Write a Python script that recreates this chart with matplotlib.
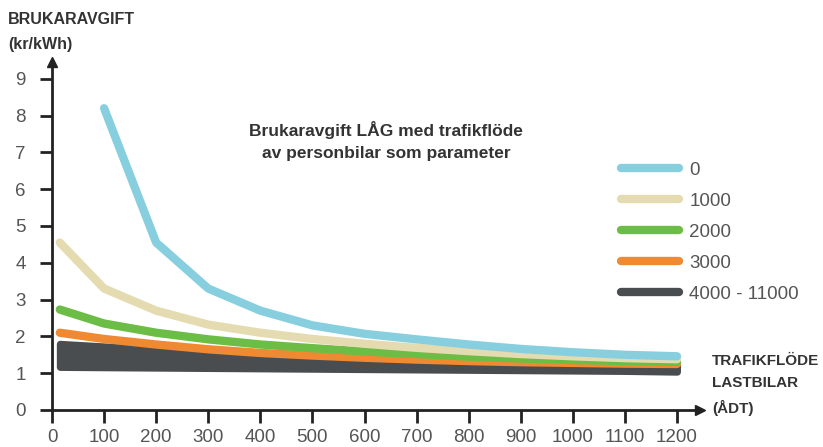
import matplotlib
matplotlib.use("Agg")
import matplotlib.pyplot as plt
from matplotlib.lines import Line2D

plt.rcParams['font.family'] = ['Liberation Sans', 'DejaVu Sans']

# Data
x0 = [100, 200, 300, 400, 500, 600, 700, 800, 900, 1000, 1100, 1200]
y0 = [8.2, 4.55, 3.3, 2.7, 2.3, 2.07, 1.92, 1.78, 1.66, 1.57, 1.5, 1.46]
xs = [15, 100, 200, 300, 400, 500, 600, 700, 800, 900, 1000, 1100, 1200]
y1000 = [4.55, 3.3, 2.7, 2.32, 2.1, 1.93, 1.8, 1.69, 1.6, 1.52, 1.46, 1.41, 1.38]
y2000 = [2.73, 2.35, 2.1, 1.92, 1.78, 1.68, 1.59, 1.52, 1.45, 1.4, 1.36, 1.33, 1.31]
y3000 = [2.1, 1.93, 1.78, 1.65, 1.55, 1.48, 1.42, 1.37, 1.33, 1.3, 1.28, 1.26, 1.25]
band_hi = [1.8, 1.73, 1.65, 1.57, 1.5, 1.44, 1.39, 1.35, 1.31, 1.28, 1.25, 1.23, 1.2]
band_lo = [1.17, 1.16, 1.15, 1.14, 1.13, 1.12, 1.11, 1.1, 1.09, 1.08, 1.07, 1.06, 1.04]
labels = ['0', '1000', '2000', '3000', '4000 - 11000']
colors = ['#87cfdf', '#e5dbb0', '#6cbd45', '#f08a32', '#4a4d50']
xticks = list(range(0, 1201, 100))
yticks = list(range(0, 10))

W, H = 823, 447
fig = plt.figure(figsize=(W / 100, H / 100), dpi=100)
x_left, x_zero_py = 52, 410
px_x = 625 / 1200
px_y = 36.8
xmax, ymax = 1245, 9.45
ax = fig.add_axes([x_left / W, (H - x_zero_py) / H, xmax * px_x / W, ymax * px_y / H])
ax.set_xlim(0, xmax)
ax.set_ylim(0, ymax)

lw = 6
ax.fill_between(xs, band_lo, band_hi, color=colors[4], lw=5, edgecolor=colors[4],
                joinstyle='round', capstyle='round', zorder=2)
ax.plot(xs, y3000, color=colors[3], lw=lw, solid_capstyle='round', solid_joinstyle='round', zorder=3)
ax.plot(xs, y2000, color=colors[2], lw=lw, solid_capstyle='round', solid_joinstyle='round', zorder=4)
ax.plot(xs, y1000, color=colors[1], lw=lw, solid_capstyle='round', solid_joinstyle='round', zorder=5)
ax.plot(x0, y0, color=colors[0], lw=lw, solid_capstyle='round', solid_joinstyle='round', zorder=6)

for s in ['top', 'right']:
    ax.spines[s].set_visible(False)
for s in ['left', 'bottom']:
    ax.spines[s].set_linewidth(2)
    ax.spines[s].set_color('#222222')
ax.plot(1, 0, marker='>', color='#222222', markersize=7, transform=ax.get_yaxis_transform(), clip_on=False)
ax.plot(0, 1, marker='^', color='#222222', markersize=7, transform=ax.get_xaxis_transform(), clip_on=False)

ax.set_xticks(xticks)
ax.set_yticks(yticks)
ax.tick_params(axis='both', length=9, width=2, color='#222222', labelcolor='#555555', labelsize=13.5)
ax.tick_params(axis='x', pad=5)
ax.tick_params(axis='y', pad=10)

fig.text(8 / W, 1 - 32 / H, 'BRUKARAVGIFT\n(kr/kWh)', fontsize=11.5, fontweight='bold',
         color='#333333', va='center', ha='left', linespacing=1.8)
fig.text(712 / W, 1 - 385 / H, 'TRAFIKFLÖDE\nLASTBILAR\n(ÅDT)', fontsize=11, fontweight='bold',
         color='#333333', va='center', ha='left', linespacing=1.75)
fig.text(386 / W, 1 - 141 / H, 'Brukaravgift LÅG med trafikflöde\nav personbilar som parameter',
         fontsize=12.5, fontweight='bold', color='#333333', va='center', ha='center', linespacing=1.6)

handles = [Line2D([0], [0], color=c, lw=lw, solid_capstyle='round') for c in colors]
leg = fig.legend(handles, labels, loc='upper left', bbox_to_anchor=(604 / W, 1 - 145 / H),
                 frameon=False, fontsize=13.5, handlelength=3.1, handletextpad=0.55,
                 labelspacing=0.74, labelcolor='#555555')

fig.savefig('out.png', dpi=100)
